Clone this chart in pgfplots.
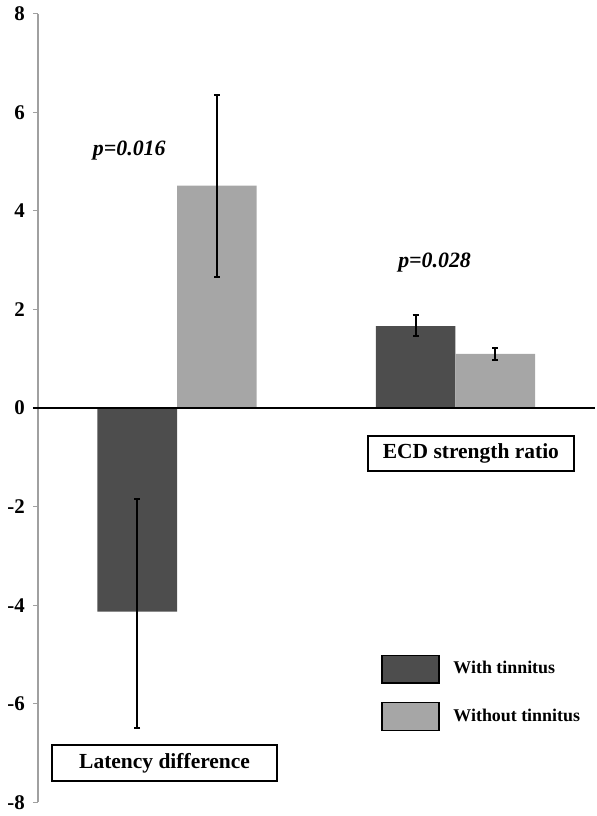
\documentclass[border=0pt]{standalone}
\usepackage{fontspec}
\setmainfont{Liberation Serif}
\usepackage{pgfplots}
\pgfplotsset{compat=1.18}
\definecolor{darkbar}{HTML}{4D4D4D}
\definecolor{lightbar}{HTML}{A6A6A6}
\definecolor{axgray}{HTML}{A0A0A0}
\begin{document}
\begin{tikzpicture}
\begin{axis}[
  scale only axis, width=280pt, height=396.5pt,
  xmin=38, xmax=598, ymin=-8, ymax=8,
  axis x line=none, axis y line*=left,
  xtick=\empty,
  y axis line style={axgray, line width=0.8pt},
  ytick={-8,-6,...,8},
  tick align=outside, major tick length=2.5pt,
  ytick style={axgray, line width=0.6pt},
  yticklabel style={font=\bfseries\fontsize{10.5}{12}\selectfont, xshift=-0.5pt, /pgf/number format/assume math mode=true},
  ybar, bar width=80,
  clip=false,
  legend style={draw=none, fill=none, at={(axis cs:383,-4.993)}, anchor=north west,
    inner sep=0pt, row sep=9pt, font=\bfseries\fontsize{9}{11}\selectfont,
    /tikz/every odd column/.append style={column sep=5pt}},
  legend cell align=left,
  legend image code/.code={\draw[#1,draw=black,line width=0.8pt] (0pt,-7pt) rectangle (28.5pt,7pt);},
]
\addplot[fill=darkbar, draw=none, bar shift=0pt,
  error bars/.cd, y dir=both, y explicit,
  error bar style={black, line width=1pt},
  error mark options={black, mark size=1.5pt, line width=1pt, rotate=90}]
  coordinates { (138,-4.13) += (0,2.28) -= (0,2.36)
                (418,1.66) += (0,0.22) -= (0,0.20) };
\addlegendentry{With tinnitus}
\addplot[fill=lightbar, draw=none, bar shift=0pt,
  error bars/.cd, y dir=both, y explicit,
  error bar style={black, line width=1pt},
  error mark options={black, mark size=1.5pt, line width=1pt, rotate=90}]
  coordinates { (218,4.51) += (0,1.84) -= (0,1.86)
                (498,1.10) += (0,0.12) -= (0,0.12) };
\addlegendentry{Without tinnitus}
\draw[black, line width=1.5pt] (axis cs:33,0) -- (axis cs:598,0);
\node[font=\bfseries\itshape\fontsize{11}{12}\selectfont] at (axis cs:130,5.216) {p=0.016};
\node[font=\bfseries\itshape\fontsize{11}{12}\selectfont] at (axis cs:437,2.956) {p=0.028};
\draw[black, line width=1pt] (axis cs:52,-6.830) rectangle (axis cs:279,-7.577);
\node[font=\bfseries\fontsize{10.8}{12}\selectfont] at (axis cs:165.5,-7.2035) {Latency difference};
\draw[black, line width=1pt] (axis cs:370,-0.575) rectangle (axis cs:577,-1.281);
\node[font=\bfseries\fontsize{10.8}{12}\selectfont] at (axis cs:473.5,-0.928) {ECD strength ratio};
\path (axis cs:0,8.242) rectangle (axis cs:600,-8.222);
\end{axis}
\end{tikzpicture}
\end{document}
